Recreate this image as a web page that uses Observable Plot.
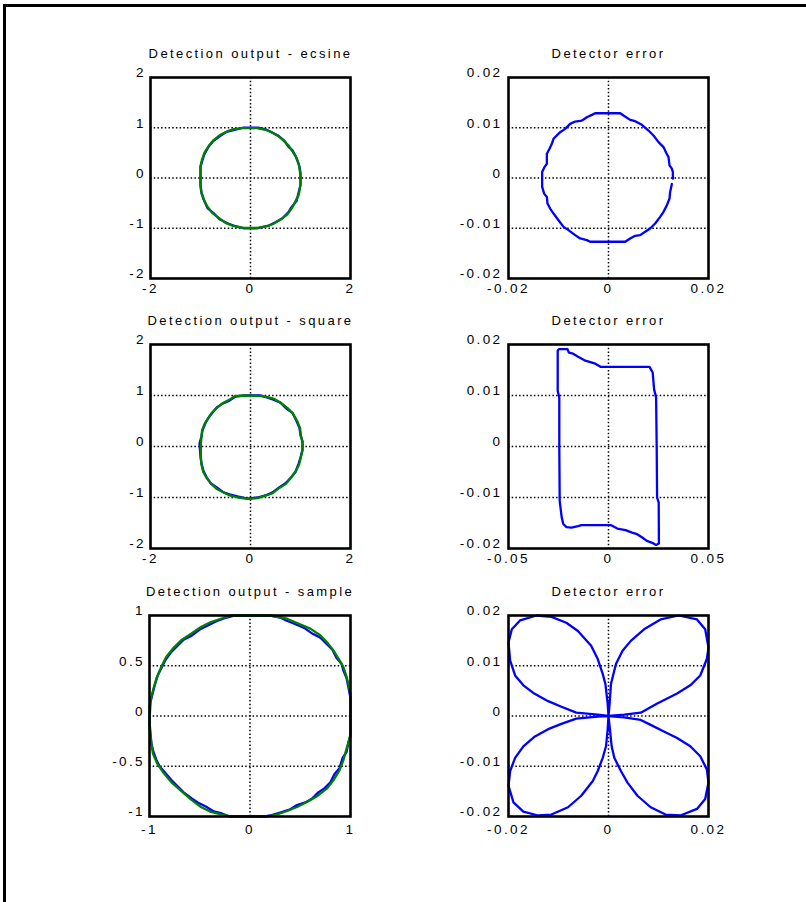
<!DOCTYPE html>
<html>
<head>
<meta charset="utf-8">
<script src="https://cdn.jsdelivr.net/npm/d3@7"></script>
<script src="https://cdn.jsdelivr.net/npm/@observablehq/plot@0.6"></script>
<style>
  html, body { margin: 0; padding: 0; background: #fff; }
  #page { position: relative; width: 806px; height: 902px; overflow: hidden; background: #fff; }
  .edge { position: absolute; background: #000; }
  #page svg { position: absolute; overflow: visible; }
</style>
</head>
<body>
<div id="page">
  <div class="edge" style="left:3px; top:4px; width:803px; height:3px;"></div>
  <div class="edge" style="left:3px; top:4px; width:3px; height:898px;"></div>
</div>
<script>
// Panel titles, row by row
const titles = [
  "Detection output - ecsine", "Detector error",
  "Detection output - square", "Detector error",
  "Detection output - sample", "Detector error"
];

// Tick values
const ticksOut2 = [-2, -1, 0, 1, 2];
const ticksOut2X = [-2, 0, 2];
const ticksOut1 = [-1, -0.5, 0, 0.5, 1];
const ticksOut1X = [-1, 0, 1];
const ticksErr = [-0.02, -0.01, 0, 0.01, 0.02];
const ticksErrX = [-0.02, 0, 0.02];
const ticksErrWideX = [-0.05, 0, 0.05];

// Dotted grid positions
const gridX = [0];
const gridOut2 = [-1, 0, 1];
const gridOut1 = [-0.5, 0, 0.5];
const gridErr = [-0.01, 0, 0.01];

// Detection output - ecsine (I/Q pairs)
const ecsineBlue = [[-0.15,1.0],[0.15,1.0],[0.30,0.97],[0.44,0.90],[0.56,0.84],[0.68,0.74],[0.76,0.62],[0.84,0.55],[0.90,0.44],[0.94,0.34],[0.98,0.22],[1.0,0.10],[1.0,-0.14],[0.96,-0.30],[0.92,-0.46],[0.82,-0.58],[0.76,-0.68],[0.64,-0.80],[0.50,-0.88],[0.36,-0.95],[0.14,-1.0],[-0.14,-1.0],[-0.30,-0.96],[-0.46,-0.90],[-0.62,-0.82],[-0.74,-0.70],[-0.86,-0.60],[-0.94,-0.42],[-0.98,-0.30],[-1.0,-0.14],[-1.0,0.22],[-0.96,0.36],[-0.92,0.48],[-0.84,0.62],[-0.74,0.74],[-0.60,0.84],[-0.48,0.92],[-0.32,0.96],[-0.15,1.0]];
const ecsineGreen = [[-0.167,0.993],[0.133,0.993],[0.30,0.96],[0.433,0.907],[0.567,0.827],[0.667,0.74],[0.767,0.64],[0.833,0.54],[0.92,0.407],[0.967,0.273],[0.987,0.14],[1.0,0.007],[1.0,-0.127],[0.967,-0.327],[0.90,-0.46],[0.833,-0.593],[0.733,-0.727],[0.60,-0.827],[0.467,-0.907],[0.333,-0.96],[0.133,-0.993],[-0.133,-0.993],[-0.333,-0.96],[-0.50,-0.893],[-0.633,-0.793],[-0.767,-0.693],[-0.867,-0.56],[-0.933,-0.427],[-0.98,-0.293],[-1.0,-0.16],[-1.0,0.24],[-0.967,0.373],[-0.92,0.507],[-0.833,0.64],[-0.733,0.76],[-0.60,0.86],[-0.467,0.927],[-0.333,0.973],[-0.167,0.993]];

// Detector error - ecsine
const ecsineErr = [[0.01267,-0.00119],[0.01233,-0.00278],[0.0122,-0.0041],[0.01167,-0.00542],[0.011,-0.00674],[0.01033,-0.00773],[0.00933,-0.00906],[0.00833,-0.01005],[0.00733,-0.01071],[0.00633,-0.01137],[0.00533,-0.0115],[0.00433,-0.01203],[0.00333,-0.01269],[-0.00367,-0.01269],[-0.00433,-0.01236],[-0.00567,-0.01203],[-0.00667,-0.01137],[-0.008,-0.01038],[-0.009,-0.00972],[-0.01,-0.0084],[-0.011,-0.00707],[-0.01167,-0.00608],[-0.0122,-0.00509],[-0.01233,-0.00377],[-0.01287,-0.00311],[-0.01327,-0.00178],[-0.01327,0.00119],[-0.0128,0.00218],[-0.01233,0.00284],[-0.01233,0.00483],[-0.0118,0.00582],[-0.01133,0.00681],[-0.011,0.0078],[-0.00967,0.00912],[-0.00867,0.00978],[-0.00767,0.01077],[-0.00667,0.01124],[-0.00533,0.01144],[-0.005,0.01163],[-0.00433,0.0121],[-0.00333,0.01256],[-0.00267,0.01289],[0.00233,0.01289],[0.003,0.01243],[0.00433,0.01157],[0.00533,0.0113],[0.00667,0.01058],[0.008,0.00945],[0.009,0.00846],[0.01,0.00714],[0.011,0.00615],[0.01153,0.00502],[0.012,0.00416],[0.0122,0.00251],[0.01267,0.00185],[0.01287,0.00119],[0.01287,-0.00013]];

// Detection output - square
const squareBlue = [[-0.12,1.0],[0.20,1.0],[0.34,0.96],[0.46,0.92],[0.60,0.86],[0.72,0.74],[0.84,0.66],[0.92,0.50],[0.98,0.36],[1.0,0.22],[1.04,0.10],[1.04,-0.06],[1.0,-0.22],[0.96,-0.34],[0.90,-0.50],[0.80,-0.62],[0.70,-0.72],[0.58,-0.80],[0.44,-0.90],[0.30,-0.96],[0.14,-1.0],[-0.06,-1.02],[-0.26,-0.98],[-0.42,-0.94],[-0.54,-0.90],[-0.68,-0.80],[-0.80,-0.72],[-0.88,-0.60],[-0.94,-0.48],[-0.98,-0.34],[-1.0,-0.20],[-1.02,0.06],[-0.98,0.20],[-0.96,0.32],[-0.90,0.46],[-0.84,0.56],[-0.78,0.64],[-0.68,0.76],[-0.56,0.84],[-0.42,0.90],[-0.30,0.98],[-0.12,1.0]];
const squareGreen = [[-0.119,1.0],[0.212,0.987],[0.344,0.967],[0.477,0.933],[0.609,0.853],[0.742,0.753],[0.841,0.653],[0.94,0.487],[0.993,0.353],[1.007,0.22],[1.04,0.087],[1.04,-0.08],[1.007,-0.213],[0.974,-0.347],[0.907,-0.48],[0.808,-0.613],[0.709,-0.733],[0.576,-0.813],[0.444,-0.913],[0.311,-0.96],[0.146,-1.013],[-0.053,-1.027],[-0.252,-1.0],[-0.417,-0.96],[-0.517,-0.913],[-0.682,-0.827],[-0.781,-0.733],[-0.881,-0.613],[-0.947,-0.493],[-0.98,-0.347],[-0.993,-0.213],[-0.993,0.053],[-0.98,0.187],[-0.967,0.32],[-0.914,0.453],[-0.848,0.553],[-0.781,0.653],[-0.682,0.753],[-0.55,0.853],[-0.417,0.92],[-0.318,0.987],[-0.119,1.0]];

// Detector error - square
const squareErr = [[0.0175,0.0156],[0.0205,0.0156],[0.0221,0.0145],[0.0228,0.0112],[0.0238,0.0096],[0.0241,-0.0002],[0.0243,-0.0100],[0.0251,-0.0110],[0.0252,-0.0190],[0.0238,-0.0193],[0.0225,-0.0190],[0.0192,-0.0185],[0.0167,-0.0178],[0.0143,-0.0172],[0.0118,-0.0169],[0.0085,-0.0164],[0.0044,-0.0161],[0.0011,-0.0154],[-0.0054,-0.0154],[-0.0136,-0.0154],[-0.0152,-0.0156],[-0.0185,-0.0159],[-0.0210,-0.0158],[-0.0226,-0.0152],[-0.0234,-0.0139],[-0.0238,-0.0126],[-0.0244,-0.0107],[-0.0246,-0.0002],[-0.0246,0.0096],[-0.0254,0.0109],[-0.0254,0.0188],[-0.0248,0.0191],[-0.0205,0.0191],[-0.0198,0.0184],[-0.0177,0.0182],[-0.0152,0.0176],[-0.0120,0.0169],[-0.0070,0.0163],[-0.0038,0.0156],[-0.0005,0.0156],[0.0170,0.0156]];

// Detection output - sample
const sampleBlue = [[-0.15,1.0],[0.20,1.0],[0.30,0.98],[0.36,0.95],[0.46,0.91],[0.55,0.87],[0.62,0.82],[0.70,0.78],[0.76,0.72],[0.82,0.66],[0.86,0.58],[0.91,0.52],[0.93,0.45],[0.96,0.38],[0.98,0.28],[1.0,0.18],[1.0,-0.20],[0.98,-0.26],[0.96,-0.36],[0.92,-0.42],[0.89,-0.52],[0.84,-0.58],[0.80,-0.66],[0.74,-0.72],[0.68,-0.76],[0.62,-0.82],[0.55,-0.86],[0.46,-0.89],[0.40,-0.93],[0.30,-0.96],[0.20,-0.99],[0.15,-1.0],[-0.20,-1.0],[-0.28,-0.97],[-0.36,-0.95],[-0.44,-0.90],[-0.52,-0.86],[-0.58,-0.82],[-0.66,-0.76],[-0.72,-0.70],[-0.78,-0.64],[-0.84,-0.57],[-0.90,-0.50],[-0.93,-0.44],[-0.96,-0.36],[-0.98,-0.28],[-0.99,-0.18],[-1.0,-0.05],[-0.99,0.14],[-0.97,0.22],[-0.95,0.30],[-0.92,0.40],[-0.88,0.48],[-0.84,0.56],[-0.78,0.64],[-0.72,0.70],[-0.66,0.76],[-0.58,0.80],[-0.50,0.86],[-0.42,0.90],[-0.34,0.94],[-0.26,0.97],[-0.15,1.0]];
const sampleGreen = [[-0.19,1.0],[0.204,1.0],[0.369,0.968],[0.468,0.925],[0.60,0.869],[0.699,0.803],[0.764,0.736],[0.83,0.653],[0.88,0.57],[0.929,0.488],[0.956,0.405],[0.979,0.322],[1.0,0.222],[1.0,0.09],[1.0,-0.176],[0.985,-0.242],[0.956,-0.342],[0.929,-0.441],[0.89,-0.541],[0.83,-0.64],[0.764,-0.723],[0.666,-0.799],[0.567,-0.856],[0.468,-0.905],[0.369,-0.945],[0.27,-0.978],[0.171,-1.0],[-0.191,-1.0],[-0.29,-0.978],[-0.389,-0.955],[-0.488,-0.905],[-0.586,-0.832],[-0.685,-0.746],[-0.784,-0.657],[-0.867,-0.557],[-0.923,-0.474],[-0.965,-0.375],[-0.982,-0.275],[-1.0,-0.109],[-1.0,0.09],[-0.982,0.189],[-0.956,0.289],[-0.932,0.371],[-0.883,0.488],[-0.834,0.587],[-0.768,0.67],[-0.685,0.753],[-0.586,0.819],[-0.488,0.886],[-0.389,0.935],[-0.29,0.968],[-0.19,1.0]];

// Detector error - sample (four lobes through the origin)
const sampleErr = [
  [0,0],[0.00023,0.00249],[0.0005,0.00643],[0.00149,0.01036],[0.00281,0.01298],[0.00446,0.01495],[0.00711,0.01725],[0.01041,0.01921],[0.01405,0.02],[0.01769,0.01921],[0.01934,0.01725],[0.02,0.01364],[0.01967,0.01134],[0.01835,0.00807],[0.01636,0.0061],[0.01372,0.00446],[0.00975,0.00249],[0.00645,0.00066],[0.00314,0.00026],[0,0],
  [0.0003,-0.00275],[0.00063,-0.00603],[0.00116,-0.00833],[0.00248,-0.01095],[0.0038,-0.01325],[0.00579,-0.01587],[0.00843,-0.01816],[0.01141,-0.01961],[0.01438,-0.0198],[0.01769,-0.01849],[0.01934,-0.01652],[0.02,-0.01325],[0.01967,-0.01062],[0.01835,-0.008],[0.01636,-0.00603],[0.01372,-0.00439],[0.01107,-0.00308],[0.00843,-0.00177],[0.00645,-0.00079],[0.00314,-0.00026],[0,0],
  [-0.00017,-0.00275],[-0.0005,-0.00603],[-0.00116,-0.00833],[-0.00215,-0.01095],[-0.00314,-0.01292],[-0.00545,-0.01587],[-0.0081,-0.01816],[-0.01141,-0.01961],[-0.01405,-0.0198],[-0.01703,-0.01902],[-0.01901,-0.01718],[-0.02,-0.0139],[-0.01967,-0.01095],[-0.01868,-0.00833],[-0.01703,-0.00603],[-0.01471,-0.00407],[-0.01207,-0.00262],[-0.00942,-0.00157],[-0.00645,-0.00052],[-0.00215,-0.00013],[0,0],
  [-0.00017,0.00249],[-0.00063,0.00643],[-0.00116,0.00839],[-0.00215,0.01134],[-0.00347,0.01397],[-0.00612,0.01692],[-0.00843,0.01856],[-0.01141,0.01974],[-0.01438,0.02],[-0.01769,0.01902],[-0.01934,0.01725],[-0.02,0.01462],[-0.01967,0.01102],[-0.01868,0.00807],[-0.01703,0.0061],[-0.01504,0.00459],[-0.01207,0.00295],[-0.00942,0.00184],[-0.00645,0.00066],[-0.00215,0.00026],[0,0]
];

const BLUE = "#0000ff";
const GREEN = "#008000";
const FONT = "'Liberation Sans', Arial, Helvetica, sans-serif";
const M = {left: 60, right: 20, top: 40, bottom: 30};
const DOTS = {stroke: "#000", strokeWidth: 1.5, strokeDasharray: "1.5,2.2"};

function panel({left, top, w, h, xDomain, yDomain, xTicks, yTicks, xGrid, yGrid, title, curves, yPad, xPad}) {
  const chart = Plot.plot({
    width: w + M.left + M.right,
    height: h + M.top + M.bottom,
    marginLeft: M.left, marginRight: M.right, marginTop: M.top, marginBottom: M.bottom,
    x: {domain: xDomain},
    y: {domain: yDomain},
    style: {fontFamily: FONT, fontSize: "13.5px", letterSpacing: "2.4px", background: "transparent", color: "#000", overflow: "visible"},
    marks: [
      Plot.ruleY(yGrid, DOTS),
      Plot.ruleX(xGrid, DOTS),
      ...curves.map(c => Plot.line(c.data, {x: d => d[0], y: d => d[1], stroke: c.color, strokeWidth: 2.3, strokeLinejoin: "round"})),
      Plot.frame({stroke: "#000", strokeWidth: 2.6}),
      Plot.axisX({ticks: xTicks, tickSize: 0, tickPadding: xPad, tickFormat: d => String(d), fill: "#000"}),
      Plot.axisY({ticks: yTicks, tickSize: 0, tickPadding: yPad, tickFormat: d => String(d), dy: -4.5, fill: "#000"}),
      Plot.text([title], {text: d => d, frameAnchor: "top", lineAnchor: "bottom", dy: -20, fontSize: 13, letterSpacing: "2.4px", fill: "#000"})
    ]
  });
  chart.style.left = (left - M.left) + "px";
  chart.style.top = (top - M.top) + "px";
  document.getElementById("page").appendChild(chart);
}

// Row 1
panel({left: 150, top: 77, w: 200, h: 201, xDomain: [-2, 2], yDomain: [-2, 2],
  xTicks: ticksOut2X, yTicks: ticksOut2, xGrid: gridX, yGrid: gridOut2, title: titles[0],
  curves: [{data: ecsineBlue, color: BLUE}, {data: ecsineGreen, color: GREEN}], yPad: 4.5, xPad: 5});
panel({left: 508, top: 77, w: 200, h: 201, xDomain: [-0.02, 0.02], yDomain: [-0.02, 0.02],
  xTicks: ticksErrX, yTicks: ticksErr, xGrid: gridX, yGrid: gridErr, title: titles[1],
  curves: [{data: ecsineErr, color: BLUE}], yPad: 6, xPad: 5});

// Row 2
panel({left: 150, top: 344, w: 200, h: 204, xDomain: [-2, 2], yDomain: [-2, 2],
  xTicks: ticksOut2X, yTicks: ticksOut2, xGrid: gridX, yGrid: gridOut2, title: titles[2],
  curves: [{data: squareBlue, color: BLUE}, {data: squareGreen, color: GREEN}], yPad: 4.5, xPad: 5});
panel({left: 508, top: 344, w: 200, h: 204, xDomain: [-0.05, 0.05], yDomain: [-0.02, 0.02],
  xTicks: ticksErrWideX, yTicks: ticksErr, xGrid: gridX, yGrid: gridErr, title: titles[3],
  curves: [{data: squareErr, color: BLUE}], yPad: 6, xPad: 5});

// Row 3
panel({left: 149, top: 615, w: 201, h: 201, xDomain: [-1, 1], yDomain: [-1, 1],
  xTicks: ticksOut1X, yTicks: ticksOut1, xGrid: gridX, yGrid: gridOut1, title: titles[4],
  curves: [{data: sampleBlue, color: BLUE}, {data: sampleGreen, color: GREEN}], yPad: 4.5, xPad: 8});
panel({left: 508, top: 615, w: 200, h: 201, xDomain: [-0.02, 0.02], yDomain: [-0.02, 0.02],
  xTicks: ticksErrX, yTicks: ticksErr, xGrid: gridX, yGrid: gridErr, title: titles[5],
  curves: [{data: sampleErr, color: BLUE}], yPad: 6, xPad: 8});
</script>
</body>
</html>
